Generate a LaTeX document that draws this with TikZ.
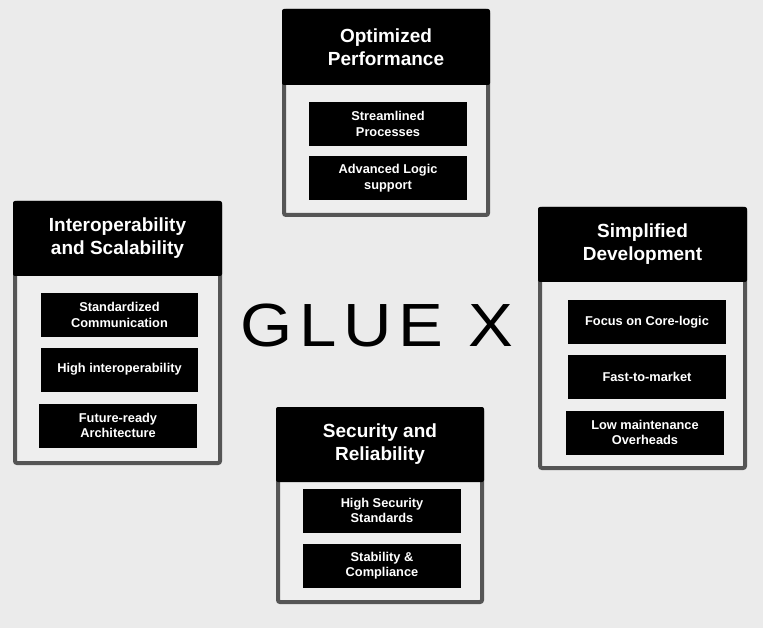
\documentclass[tikz,border=0pt]{standalone}
\usepackage{fontspec}
\setmainfont{Liberation Sans}
\newfontfamily\logofont[LetterSpace=10]{Liberation Sans}
\definecolor{bgcol}{HTML}{EBEBEB}
\definecolor{cardcol}{HTML}{EEEEEE}
\definecolor{rimcol}{HTML}{555555}
\tikzset{
  card/.style={draw=rimcol, fill=cardcol, line width=4, rounded corners=2},
  headbox/.style={fill=black, rounded corners=2},
  headtext/.style={text=white, align=center, font=\bfseries\fontsize{19}{23}\selectfont},
  itembox/.style={fill=black, text=white, align=center, inner sep=0pt,
    minimum width=158pt, minimum height=44pt, font=\bfseries\fontsize{12.8}{15.5}\selectfont}
}
\begin{document}
\begin{tikzpicture}[x=1pt,y=1pt,yscale=-1,xscale=1]
	\fill[bgcol] (0,0) rectangle (763,628);
	\useasboundingbox (0,0) rectangle (763,628);
	% optimized performance
	\draw[card] (284,11) rectangle (488,215);
	\fill[headbox] (282,9) rectangle (490,85);
	\node[headtext] (opt) at (386,47) {Optimized\\Performance};
	\node[itembox] (opt1) at (388,124) {Streamlined\\Processes};
	\node[itembox] (opt2) at (388,178) {Advanced Logic\\support};
	% interoperability and scalability
	\draw[card] (15,203) rectangle (220,463);
	\fill[headbox] (13,201) rectangle (222,276);
	\node[headtext] (inter) at (117.5,238.5) {Interoperability\\and Scalability};
	\node[itembox, minimum width=157pt] (inter1) at (119.5,315) {Standardized\\Communication};
	\node[itembox, minimum width=157pt] (inter2) at (119.5,369.5) {High interoperability};
	\node[itembox] (inter3) at (118,425.5) {Future-ready\\Architecture};
	% simplified development
	\draw[card] (540,209) rectangle (745,468);
	\fill[headbox] (538,207) rectangle (747,282);
	\node[headtext] (simp) at (642.5,244.5) {Simplified\\Development};
	\node[itembox] (simp1) at (647,322) {Focus on Core-logic};
	\node[itembox] (simp2) at (647,376.5) {Fast-to-market};
	\node[itembox] (simp3) at (645,432.5) {Low maintenance\\Overheads};
	% security and reliability
	\draw[card] (278,409) rectangle (482,602);
	\fill[headbox] (276,407) rectangle (484,482);
	\node[headtext] (sec) at (380,444.5) {Security and\\Reliability};
	\node[itembox] (sec1) at (382,510.5) {High Security\\Standards};
	\node[itembox] (sec2) at (382,565.5) {Stability \&\\Compliance};
	% logo
	\node[font=\logofont\fontsize{61}{61}\selectfont, xscale=1.1, inner sep=0pt] (logo) at (377,326) {GLUE X};
\end{tikzpicture}
\end{document}
